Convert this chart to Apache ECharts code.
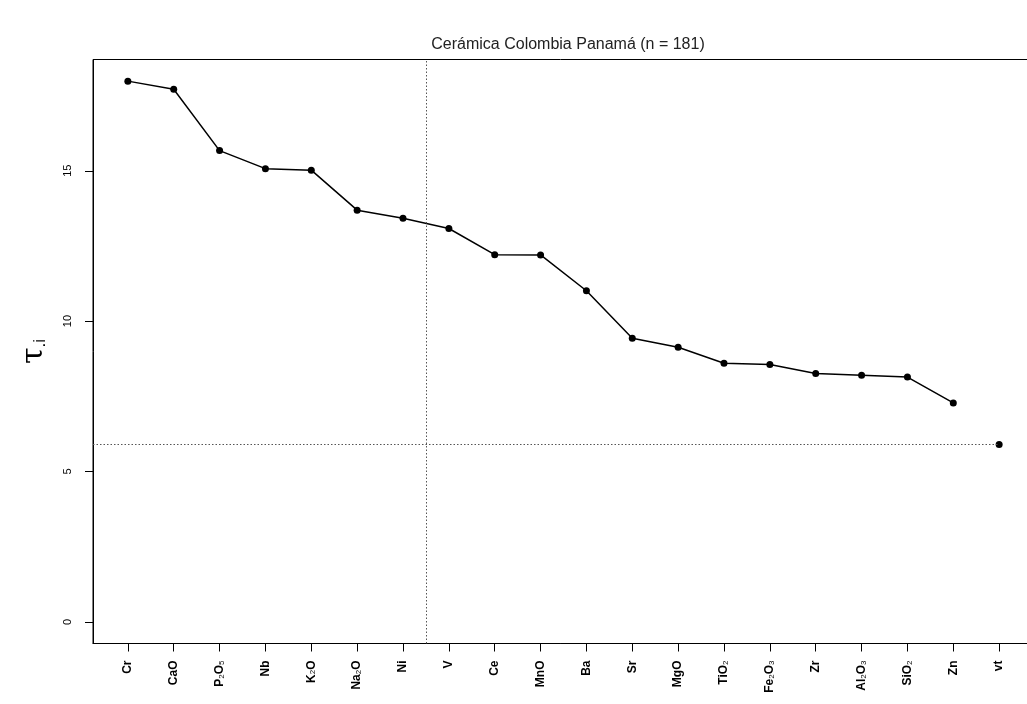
<!DOCTYPE html>
<html>
<head>
<meta charset="utf-8">
<script src="https://cdn.jsdelivr.net/npm/echarts@6/dist/echarts.min.js"></script>
<style>
  html, body { margin: 0; padding: 0; background: #fff; }
  #chart { width: 1027px; height: 704px; }
</style>
</head>
<body>
<div id="chart"></div>
<script>
// tau.i per variable, sorted descending; last one (vt) is the total
const elements = ['Cr', 'CaO', 'P2O5', 'Nb', 'K2O', 'Na2O', 'Ni', 'V', 'Ce', 'MnO',
                  'Ba', 'Sr', 'MgO', 'TiO2', 'Fe2O3', 'Zr', 'Al2O3', 'SiO2', 'Zn', 'vt'];
const tau = [17.98, 17.71, 15.67, 15.07, 15.02, 13.69, 13.42, 13.08, 12.21, 12.20,
             11.01, 9.43, 9.13, 8.60, 8.56, 8.26, 8.20, 8.14, 7.28, 5.90];
const yTicks = [0, 5, 10, 15];
const cutAfter = 7; // vertical dotted line sits between Ni and V
const titleText = 'Cerámica Colombia Panamá (n = 181)';

const n = elements.length;
const xTicks = elements.map((e, i) => i + 1);
const xMin = 1 - 0.04 * (n - 1), xMax = n + 0.04 * (n - 1);
const yMax = Math.max(...tau);
const yMin = -0.04 * yMax, yTop = yMax + 0.04 * yMax;

const linePts = tau.slice(0, n - 1).map((v, i) => [i + 1, v]);
const vtPt = [[n, tau[n - 1]]];

function subLabel(name) {
    return name.replace(/(\d)/g, '{sub|$1}');
}

const chart = echarts.init(document.getElementById('chart'), null, {renderer: 'canvas'});
const option = {
    animation: false,
    backgroundColor: '#fff',
    title: {
        text: titleText,
        left: 563,
        top: 32,
        textAlign: 'center',
        textStyle: {fontFamily: 'Liberation Sans', fontSize: 16, fontWeight: 'normal', color: '#222'}
    },
    grid: {
        left: 93, top: 59.5, right: -7, bottom: 60.5,
        outerBoundsMode: 'none',
        containLabel: false,
        show: true, borderColor: '#000', borderWidth: 1, backgroundColor: 'transparent'
    },
    xAxis: {
        type: 'value', min: xMin, max: xMax,
        axisLine: {show: true, onZero: false, lineStyle: {color: '#000'}},
        splitLine: {show: false},
        axisTick: {show: true, customValues: xTicks, length: 8, lineStyle: {color: '#000'}},
        axisLabel: {
            customValues: xTicks,
            rotate: 90,
            margin: 17,
            fontFamily: 'Liberation Sans',
            fontSize: 12,
            fontWeight: 'bold',
            color: '#000',
            formatter: v => subLabel(elements[Math.round(v) - 1] || ''),
            rich: {
                sub: {fontSize: 8, fontWeight: 'normal', fontFamily: 'Liberation Sans', color: '#000', verticalAlign: 'bottom', padding: [4, 0, 0, 0]}
            }
        }
    },
    yAxis: {
        type: 'value', min: yMin, max: yTop,
        name: '{t|τ}{s|.i}',
        nameLocation: 'middle',
        nameRotate: 90,
        nameGap: 44,
        nameTextStyle: {
            rich: {
                t: {fontFamily: 'DejaVu Serif', fontSize: 30, color: '#000'},
                s: {fontFamily: 'Liberation Sans', fontSize: 17, color: '#000', verticalAlign: 'bottom', padding: [10, 0, 0, 0]}
            }
        },
        axisLine: {show: true, onZero: false, lineStyle: {color: '#000'}},
        splitLine: {show: false},
        axisTick: {show: true, customValues: yTicks, length: 8, lineStyle: {color: '#000'}},
        axisLabel: {
            customValues: yTicks,
            rotate: 90,
            margin: 20,
            fontFamily: 'Liberation Sans',
            fontSize: 11,
            color: '#000'
        }
    },
    series: [
        {
            type: 'line',
            data: linePts,
            symbol: 'circle',
            symbolSize: 7,
            itemStyle: {color: '#000'},
            lineStyle: {color: '#000', width: 1.5},
            markLine: {
                silent: true,
                symbol: 'none',
                label: {show: false},
                lineStyle: {color: '#555', type: [1.5, 2], width: 1},
                data: [
                    [{coord: [xMin, tau[n - 1]]}, {coord: [n, tau[n - 1]]}],
                    [{coord: [cutAfter + 0.5, yMin]}, {coord: [cutAfter + 0.5, yTop]}]
                ]
            }
        },
        {
            type: 'scatter',
            data: vtPt,
            symbol: 'circle',
            symbolSize: 7,
            itemStyle: {color: '#000', opacity: 1}
        }
    ]
};
chart.setOption(option);
</script>
</body>
</html>
